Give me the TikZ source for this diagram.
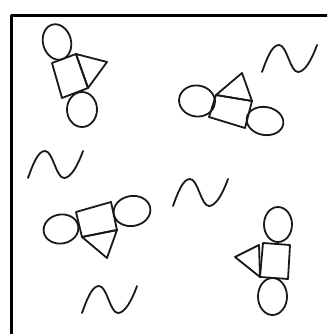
\documentclass[tikz,border=0pt]{standalone}
\begin{document}
\begin{tikzpicture}[x=1pt,y=-1pt,line join=round,line cap=round,
  ink/.style={draw=black!90,line width=1.8pt},
  frameline/.style={draw=black,line width=3pt},
  pics/wave/.style={code={\draw[ink] (0,0) .. controls (5,-14) and (10,-27) .. (17,-27)
      .. controls (25,-27) and (28,0) .. (36,0)
      .. controls (43,0) and (50,-13) .. (55,-27);}}]
\useasboundingbox (0,0) rectangle (327,334);
\clip (0,0) rectangle (327,334);
% frame
\draw[frameline] (11,345) -- (11,16) -- (340,16);
% group 1 (top left)
\draw[ink,rotate around={15:(57,42)}] (57,42) ellipse [x radius=14,y radius=18];
\draw[ink] (82,109.5) ellipse [x radius=15,y radius=17.5];
\draw[ink] (52,63) -- (76,54) -- (88,88) -- (62,98) -- cycle;
\draw[ink] (76,54) -- (107,62) -- (88,88) -- cycle;
% group 2 (top right)
\draw[ink,rotate around={-8:(197,101)}] (197,101) ellipse [x radius=18,y radius=15.5];
\draw[ink,rotate around={-10:(265,121)}] (265,121) ellipse [x radius=18.5,y radius=14];
\draw[ink] (216,95) -- (252,101) -- (245,128) -- (209,117) -- cycle;
\draw[ink] (216,95) -- (242,73) -- (252,101) -- cycle;
% group 3 (left middle)
\draw[ink,rotate around={10:(61,229)}] (61,229) ellipse [x radius=17.5,y radius=14.5];
\draw[ink,rotate around={10:(132,211)}] (132,211) ellipse [x radius=18.5,y radius=15];
\draw[ink] (76,212) -- (111,202) -- (117,230) -- (82,237) -- cycle;
\draw[ink] (82,237) -- (117,230) -- (107,258) -- cycle;
% group 4 (bottom right)
\draw[ink] (278,224.5) ellipse [x radius=14,y radius=17.5];
\draw[ink] (272.5,296.5) ellipse [x radius=14.5,y radius=18.5];
\draw[ink] (263,243) -- (290,245) -- (288,279) -- (260,277) -- cycle;
\draw[ink] (235,257) -- (259,245) -- (260,277) -- cycle;
% waves
\pic at (262,72) {wave};
\pic at (28,178) {wave};
\pic at (173,206) {wave};
\pic at (82,313) {wave};
\end{tikzpicture}
\end{document}
